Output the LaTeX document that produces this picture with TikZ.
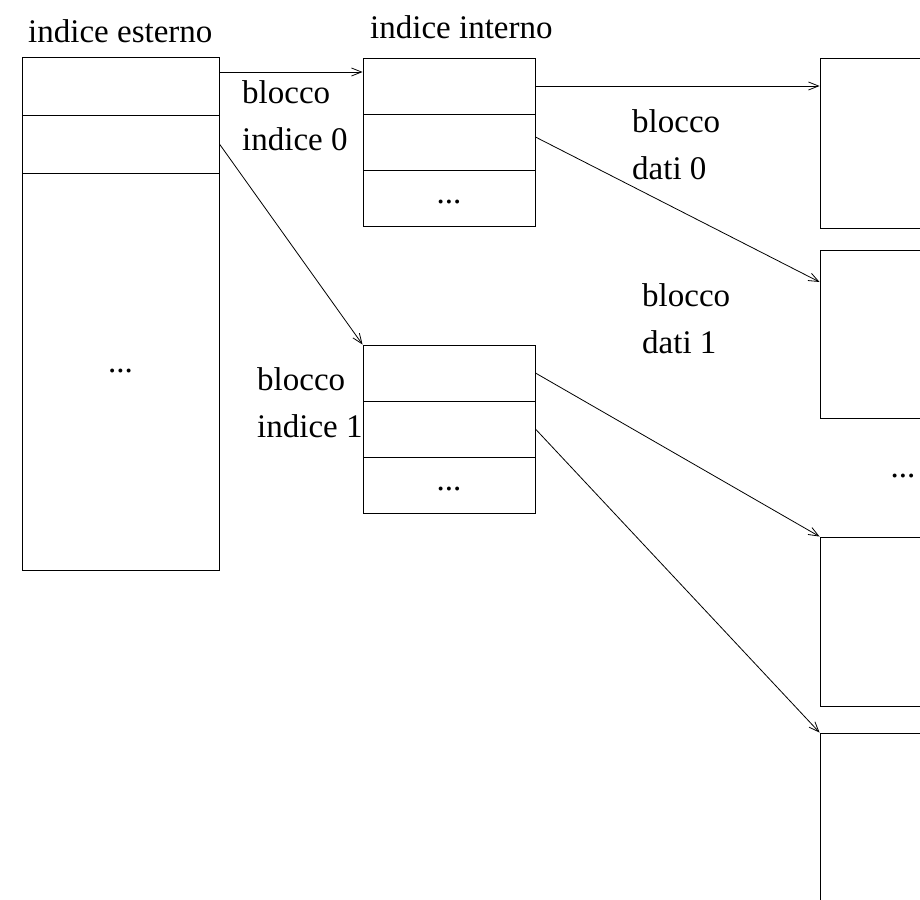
\documentclass[tikz,border=0pt]{standalone}
\usepackage{fontspec}
\setmainfont{Liberation Serif}
\usetikzlibrary{arrows.meta}
\begin{document}
\begin{tikzpicture}[x=1pt,y=-1pt,>={Straight Barb[length=10pt,width=8pt]},
  cell/.style={draw,line width=0.9pt,inner sep=0pt,minimum width=#1},
  lab/.style={align=left,inner sep=0pt,anchor=base west,font=\fontsize{33}{47}\selectfont},
  arr/.style={->,line width=0.8pt}]
\useasboundingbox (0,0) rectangle (920,899);
\clip (0,0) rectangle (920,899);
%indice esterno
\node[cell=197pt,minimum height=58pt] (est0) at (120.5,86) {};
\node[cell=197pt,minimum height=58pt] (est1) at (120.5,144) {};
\node[cell=197pt,minimum height=397pt,font=\fontsize{33}{40}\selectfont] (est2) at (120.5,371.5) {...};
%indice interno, blocchi 0 e 1
\foreach \blk/\top in {0/58,1/345}
  {
  \node[cell=172pt,minimum height=56pt] (int\blk a) at (449,\top+28) {};
  \node[cell=172pt,minimum height=56pt] (int\blk b) at (449,\top+84) {};
  \node[cell=172pt,minimum height=56pt,font=\fontsize{33}{40}\selectfont] (int\blk c) at (449,\top+140) {\raisebox{-5pt}[0pt][0pt]{...}};
  }
%blocchi dati
\node[cell=200pt,minimum height=170pt] (dat0) at (920,143) {};
\node[cell=200pt,minimum height=168pt] (dat1) at (920,334) {};
\node[cell=200pt,minimum height=169pt] (dat2) at (920,621.5) {};
\node[cell=200pt,minimum height=300pt] (dat3) at (920,883) {};
\node[inner sep=0pt,font=\fontsize{33}{40}\selectfont] (altri) at (903,476) {...};
%etichette
\node[lab] (tEst) at (28,42) {indice esterno};
\node[lab] (tInt) at (370,38) {indice interno};
\node[lab] (lInd0) at (242,150) {blocco\\indice 0};
\node[lab] (lInd1) at (257,437) {blocco\\indice 1};
\node[lab] (lDat0) at (632,179) {blocco\\dati 0};
\node[lab] (lDat1) at (642,353) {blocco\\dati 1};
%puntatori
\draw[arr] ([yshift=14pt]est0.east) -- ([yshift=14pt]int0a.west);
\draw[arr] (est1.east) -- (int1a.north west);
\draw[arr] (int0a.east) -- (dat0.west |- int0a.east);
\draw[arr] ([yshift=5pt]int0b.east) -- ([yshift=52pt]dat1.west);
\draw[arr] (int1a.east) -- (dat2.north west);
\draw[arr] (int1b.east) -- (dat3.north west);
\end{tikzpicture}
\end{document}
